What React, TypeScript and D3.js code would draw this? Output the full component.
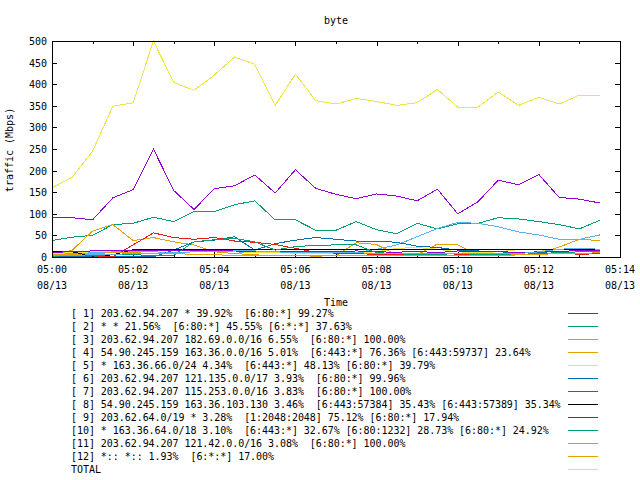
import React from "react";
import * as d3 from "d3";

const times = [
  "05:00:00","05:00:30","05:01:00","05:01:30","05:02:00","05:02:30","05:03:00","05:03:30",
  "05:04:00","05:04:30","05:05:00","05:05:30","05:06:00","05:06:30","05:07:00","05:07:30",
  "05:08:00","05:08:30","05:09:00","05:09:30","05:10:00","05:10:30","05:11:00","05:11:30",
  "05:12:00","05:12:30","05:13:00","05:13:30",
];

const s1 = [91,91,86,137,156,250,154,110,158,165,190,148,202,159,145,135,146,141,130,157,100,128,178,167,191,138,134,125];
const s2 = [38,46,50,75,78,92,82,105,105,121,130,86,86,62,62,82,63,54,78,65,77,78,91,88,82,75,65,85];
const s3 = [5,8,10,12,12,12,10,12,14,12,10,12,10,10,10,10,18,28,47,66,80,78,70,58,51,41,41,51];
const s4 = [3,16,60,75,38,45,35,28,12,8,5,3,3,2,3,33,29,5,5,30,28,5,3,5,8,23,41,38];
const s5 = [8,10,12,14,15,16,15,14,13,12,11,10,9,8,8,10,12,20,22,18,12,10,12,17,17,12,12,14];
const s6 = [1,2,2,1,2,0,16,35,39,47,16,31,39,45,41,37,37,34,25,22,16,14,12,10,10,8,8,10];
const s7 = [2,4,3,0,28,56,45,41,45,37,34,29,20,11,9,8,6,5,4,3,5,6,8,6,8,10,6,8];
const s8 = [12,12,2,5,17,17,17,17,17,17,17,17,17,17,17,17,17,17,17,17,17,17,17,17,17,17,17,17];
const s9 = [10,13,14,16,16,16,15,14,16,14,12,12,13,12,12,14,12,11,13,10,14,12,13,10,12,12,16,14];
const s10 = [2,3,4,5,5,4,4,35,40,43,35,16,24,27,28,28,10,8,5,6,8,6,5,6,8,10,12,12];
const s11 = [3,4,5,6,8,8,10,12,12,14,14,12,10,10,10,10,8,8,8,8,8,8,8,8,12,18,20,18];
const s12 = [5,6,8,10,10,8,8,6,5,4,4,4,4,4,3,3,3,3,3,3,3,3,4,5,6,8,8,10];
const total = [160,185,245,349,357,500,404,386,421,463,446,351,423,362,354,367,360,351,357,388,347,347,382,351,370,354,375,375];

const labels = [
  "[ 1] 203.62.94.207 * 39.92%  [6:80:*] 99.27%",
  "[ 2] * * 21.56%  [6:80:*] 45.55% [6:*:*] 37.63%",
  "[ 3] 203.62.94.207 182.69.0.0/16 6.55%  [6:80:*] 100.00%",
  "[ 4] 54.90.245.159 163.36.0.0/16 5.01%  [6:443:*] 76.36% [6:443:59737] 23.64%",
  "[ 5] * 163.36.66.0/24 4.34%  [6:443:*] 48.13% [6:80:*] 39.79%",
  "[ 6] 203.62.94.207 121.135.0.0/17 3.93%  [6:80:*] 99.96%",
  "[ 7] 203.62.94.207 115.253.0.0/16 3.83%  [6:80:*] 100.00%",
  "[ 8] 54.90.245.159 163.36.103.130 3.46%  [6:443:57384] 35.43% [6:443:57389] 35.34%",
  "[ 9] 203.62.64.0/19 * 3.28%  [1:2048:2048] 75.12% [6:80:*] 17.94%",
  "[10] * 163.36.64.0/18 3.10%  [6:443:*] 32.67% [6:80:1232] 28.73% [6:80:*] 24.92%",
  "[11] 203.62.94.207 121.42.0.0/16 3.08%  [6:80:*] 100.00%",
  "[12] *:: *:: 1.93%  [6:*:*] 17.00%",
  "TOTAL",
];

const colors = [
  "#9400d3","#009e73","#56b4e9","#e69f00","#f0e442","#0072b2","#e51e10","#000000",
  "#9400d3","#009e73","#56b4e9","#e69f00","#f0e442",
];

const series = [s1,s2,s3,s4,s5,s6,s7,s8,s9,s10,s11,s12,total];

const yTicks = [0,50,100,150,200,250,300,350,400,450,500];

const FONT = "'DejaVu Sans Mono', 'Liberation Mono', monospace";

function parseT(t: string) {
  return new Date(`2013-08-13T${t}Z`);
}

export default function App() {
  const W = 640, H = 480;
  const left = 52, right = 620, top = 41, bottom = 257;
  const x = d3.scaleUtc()
    .domain([parseT("05:00:00"), parseT("05:14:00")])
    .range([left, right]);
  const y = d3.scaleLinear().domain([0, 500]).range([bottom, top]);
  const xMajor = x.ticks(d3.utcMinute.every(2)!);
  const xMinor = x.ticks(d3.utcMinute.every(1)!).filter((d) => d.getUTCMinutes() % 2 === 1);
  const fmtT = d3.utcFormat("%H:%M");
  const fmtD = d3.utcFormat("%m/%d");
  const tdates = times.map(parseT);
  const line = d3.line<number>()
    .x((_, i) => x(tdates[i]))
    .y((d) => y(d));

  const tl = 5;
  return (
    <svg width={W} height={H} style={{ position: "absolute", left: 0, top: 0, background: "#fff" }}
      fontFamily={FONT} fontSize={10}>
      <rect x={0} y={0} width={W} height={H} fill="#fff" />
      <text x={336} y={24} textAnchor="middle">byte</text>
      <text transform="translate(13,150) rotate(-90)" textAnchor="middle">traffic (Mbps)</text>
      <text x={336} y={306} textAnchor="middle">Time</text>
      <g shapeRendering="crispEdges" stroke="#000" strokeWidth={1}>
        {yTicks.map((v) => (
          <g key={v}>
            <line x1={left} x2={left + tl} y1={Math.round(y(v)) + 0.5} y2={Math.round(y(v)) + 0.5} />
            <line x1={right - tl} x2={right} y1={Math.round(y(v)) + 0.5} y2={Math.round(y(v)) + 0.5} />
          </g>
        ))}
        {xMajor.map((d) => (
          <g key={+d}>
            <line x1={Math.round(x(d)) + 0.5} x2={Math.round(x(d)) + 0.5} y1={bottom} y2={bottom - tl} />
            <line x1={Math.round(x(d)) + 0.5} x2={Math.round(x(d)) + 0.5} y1={top} y2={top + tl} />
          </g>
        ))}
        {xMinor.map((d) => (
          <g key={+d}>
            <line x1={Math.round(x(d)) + 0.5} x2={Math.round(x(d)) + 0.5} y1={bottom} y2={bottom - 3} />
            <line x1={Math.round(x(d)) + 0.5} x2={Math.round(x(d)) + 0.5} y1={top} y2={top + 3} />
          </g>
        ))}
      </g>
      {yTicks.map((v) => (
        <text key={v} x={47} y={y(v) + 4} textAnchor="end">{v}</text>
      ))}
      {xMajor.map((d) => (
        <g key={+d}>
          <text x={x(d)} y={273} textAnchor="middle">{fmtT(d)}</text>
          <text x={x(d)} y={289} textAnchor="middle">{fmtD(d)}</text>
        </g>
      ))}
      <g fill="none" strokeWidth={1} shapeRendering="crispEdges">
        {series.map((s, i) => (
          <path key={i} d={line(s) || ""} stroke={colors[i]} />
        ))}
      </g>
      <rect x={left + 0.5} y={top + 0.5} width={right - left} height={bottom - top}
        fill="none" stroke="#000" shapeRendering="crispEdges" />
      {labels.map((l, i) => (
        <g key={i}>
          <text x={71} y={317 + 13 * i} style={{ whiteSpace: "pre" }} letterSpacing={-0.05}>{l}</text>
          <line x1={568} x2={598} y1={313.5 + 13 * i} y2={313.5 + 13 * i}
            stroke={colors[i]} shapeRendering="crispEdges" />
        </g>
      ))}
    </svg>
  );
}
